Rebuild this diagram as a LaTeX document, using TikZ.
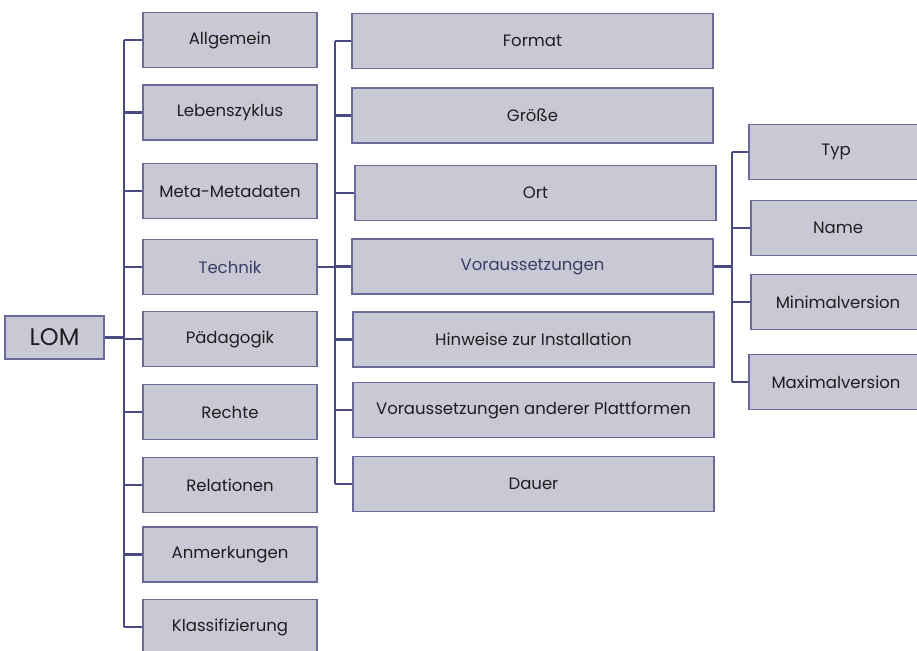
\documentclass[tikz,border=0pt]{standalone}
\usepackage{fontspec}
\setmainfont{Poppins}
\definecolor{boxfill}{HTML}{C9C9D6}
\definecolor{boxline}{HTML}{6A6A98}
\definecolor{conn}{HTML}{4A4A84}
\definecolor{hltext}{HTML}{3C3C66}
\definecolor{txt}{HTML}{1E1E1E}
\begin{document}
\begin{tikzpicture}[x=1pt,y=-1pt,
  box/.style={draw=boxline,fill=boxfill,line width=1.6pt,rectangle,inner sep=0pt,
    minimum height=55pt,font=\fontsize{16.5}{19}\selectfont,text=txt},
  lbox/.style={box,minimum width=174pt},
  mbox/.style={box,minimum width=361pt},
  rbox/.style={box,minimum width=174pt},
  hl/.style={text=hltext},
  link/.style={draw=conn,line width=2.2pt}]
\useasboundingbox (0,0) rectangle (917,650);
\clip (0,0) rectangle (917,650);
% root
\node[box,minimum width=99pt,minimum height=43pt,font=\fontsize{24}{27}\selectfont] (lom) at (54.5,337.5) {LOM};
% left column
\node[lbox] (l1) at (230,40) {Allgemein};
\node[lbox] (l2) at (230,112.5) {Lebenszyklus};
\node[lbox] (l3) at (230,191) {Meta-Metadaten};
\node[lbox,hl] (l4) at (230,267) {Technik};
\node[lbox] (l5) at (230,339) {Pädagogik};
\node[lbox] (l6) at (230,412) {Rechte};
\node[lbox] (l7) at (230,485) {Relationen};
\node[lbox] (l8) at (230,554.5) {Anmerkungen};
\node[lbox] (l9) at (230,627) {Klassifizierung};
% middle column
\node[mbox] (m1) at (532.5,41) {Format};
\node[mbox] (m2) at (532.5,115.5) {Größe};
\node[mbox] (m3) at (535.5,193) {Ort};
\node[mbox,hl] (m4) at (532.5,266.5) {Voraussetzungen};
\node[mbox] (m5) at (533.5,339.5) {Hinweise zur Installation};
\node[mbox] (m6) at (533.5,410) {Voraussetzungen anderer Plattformen};
\node[mbox] (m7) at (533.5,484) {Dauer};
% right column
\node[rbox] (r1) at (836,152) {Typ};
\node[rbox] (r2) at (838,228) {Name};
\node[rbox] (r3) at (838,302) {Minimalversion};
\node[rbox] (r4) at (836,382) {Maximalversion};
% trunks
\coordinate (lt) at (124,0);
\coordinate (mt) at (335,0);
\coordinate (rt) at (732,0);
\draw[link] (lt |- l1.west) -- (lt |- l9.west);
\draw[link] (mt |- m1.west) -- (mt |- m7.west);
\draw[link] (rt |- r1.west) -- (rt |- r4.west);
\draw[link] (lom.east) -- (lt |- lom.east);
\foreach \n in {l1,l2,l3,l4,l5,l6,l7,l8,l9}{\draw[link] (lt |- \n.west) -- (\n.west);}
\draw[link] (l4.east) -- (mt |- l4.east);
\foreach \n in {m1,m2,m3,m4,m5,m6,m7}{\draw[link] (mt |- \n.west) -- (\n.west);}
\draw[link] (m4.east) -- (rt |- m4.east);
\foreach \n in {r1,r2,r3,r4}{\draw[link] (rt |- \n.west) -- (\n.west);}
\end{tikzpicture}
\end{document}
